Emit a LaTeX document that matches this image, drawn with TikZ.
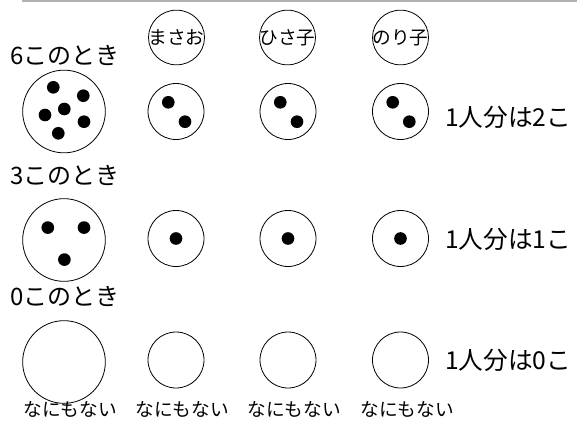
\documentclass[tikz,border=0pt]{standalone}
\usepackage{fontspec}
\setmainfont{Noto Sans CJK JP}
\usetikzlibrary{shapes.geometric}
\begin{document}
\begin{tikzpicture}
    [
    x=0.75pt,y=-0.75pt,
    plate/.style={circle,draw,line width=0.6pt,inner sep=0pt,minimum size=42pt},
    bigplate/.style={circle,draw,line width=0.6pt,inner sep=0pt,minimum size=62pt},
    kid/.style={ellipse,draw,line width=0.6pt,inner sep=0pt,minimum width=42pt,minimum height=41pt},
    dot/.style={circle,fill=black,inner sep=0pt,minimum size=9.5pt},
    kidname/.style={inner sep=0pt,font=\fontsize{14}{14}\selectfont},
    case/.style={anchor=west,inner sep=0pt,font=\fontsize{18}{18}\selectfont},
    share/.style={anchor=west,inner sep=0pt,font=\fontsize{18.5}{18.5}\selectfont},
    none/.style={inner sep=0pt,font=\fontsize{14}{14}\selectfont}
    ]
    \useasboundingbox (0,0) rectangle (577,421);
    % top rule
    \coordinate (ruleL) at (22,1);
    \coordinate (ruleR) at (577,1);
    \draw [gray!60,line width=1pt] (ruleL) -- (ruleR);
    % children
    \node (masao) at (176.5,37.5) [kid] {};
    \node (hisako) at (287.5,37.5) [kid] {};
    \node (noriko) at (400.5,37.5) [kid] {};
    \node at (masao) [kidname] {まさお};
    \node at (hisako) [kidname] {ひさ子};
    \node at (noriko) [kidname] {のり子};
    % 6 candies
    \node (six) at (10,55) [case] {6このとき};
    \node (b6) at (64,111.5) [bigplate] {};
    \node (p6a) at (176,111.5) [plate] {};
    \node (p6b) at (288,111.5) [plate] {};
    \node (p6c) at (400.5,111.5) [plate] {};
    \node (d61) at (53.3,87.3) [dot] {};
    \node (d62) at (83.3,95.7) [dot] {};
    \node (d63) at (45,115) [dot] {};
    \node (d64) at (64.3,109) [dot] {};
    \node (d65) at (84,121.7) [dot] {};
    \node (d66) at (58.3,133.3) [dot] {};
    \node (d6a1) at (168.3,102.3) [dot] {};
    \node (d6a2) at (185,121.7) [dot] {};
    \node (d6b1) at (280.3,102.3) [dot] {};
    \node (d6b2) at (297,121.7) [dot] {};
    \node (d6c1) at (392.7,102.3) [dot] {};
    \node (d6c2) at (409.3,121.7) [dot] {};
    \node (two) at (445,117) [share] {1人分は2こ};
    % 3 candies
    \node (three) at (10,175) [case] {3このとき};
    \node (b3) at (64,240) [bigplate] {};
    \node (p3a) at (176,238.5) [plate] {};
    \node (p3b) at (288,238.5) [plate] {};
    \node (p3c) at (400.5,238.5) [plate] {};
    \node (d31) at (47.8,227.6) [dot] {};
    \node (d32) at (84,227.6) [dot] {};
    \node (d33) at (64.4,259.6) [dot] {};
    \node (d3a) at (176,238.5) [dot] {};
    \node (d3b) at (288,238.5) [dot] {};
    \node (d3c) at (400.5,238.5) [dot] {};
    \node (one) at (445,239) [share] {1人分は1こ};
    % 0 candies
    \node (zero) at (10,296.5) [case] {0このとき};
    \node (b0) at (64,362) [bigplate] {};
    \node (p0a) at (176,360) [plate] {};
    \node (p0b) at (288,360) [plate] {};
    \node (p0c) at (400.5,360) [plate] {};
    \node (nil) at (445,360) [share] {1人分は0こ};
    \node (n0) at (70,409) [none] {なにもない};
    \node (na) at (182,409) [none] {なにもない};
    \node (nb) at (294,409) [none] {なにもない};
    \node (nc) at (407,409) [none] {なにもない};
  \end{tikzpicture}
\end{document}
